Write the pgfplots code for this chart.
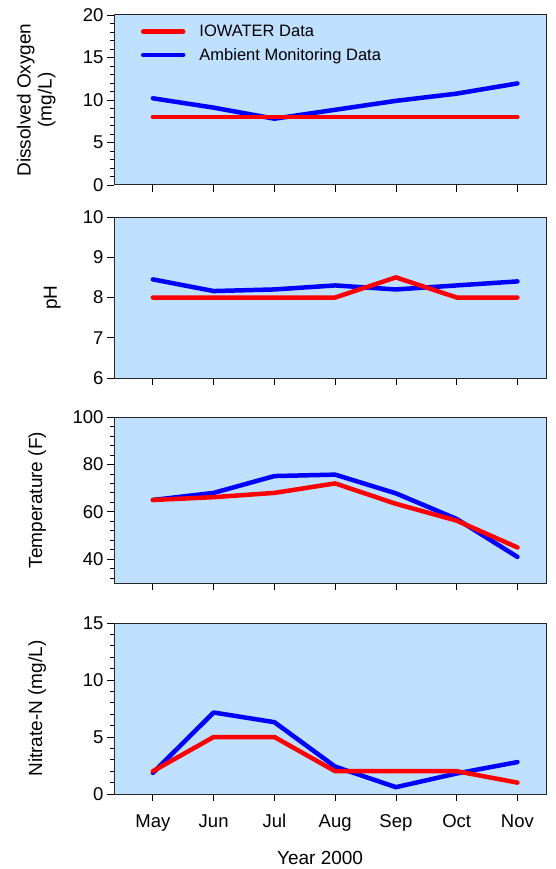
\documentclass[border=0pt]{standalone}
\usepackage{pgfplots}
\pgfplotsset{compat=1.18}
\usepackage{fontspec}
\setmainfont{Liberation Sans}
\definecolor{panelbg}{RGB}{192,224,255}
\definecolor{iowred}{RGB}{255,0,0}
\definecolor{ambblue}{RGB}{0,0,255}
\pgfplotsset{
  panel/.style={
    scale only axis,
    width=432pt,
    axis background/.style={fill=panelbg},
    xmin=-0.64, xmax=6.47,
    xtick={0,...,6},
    xticklabels={},
    axis line style={line width=1pt, black!85},
    tick style={line width=0.8pt, black},
    tick align=outside,
    major tick length=7pt,
    minor tick length=4pt,
    xtick pos=bottom, ytick pos=left,
    tick label style={font=\fontsize{18.5}{21}\selectfont},
    /pgf/number format/assume math mode=true,
    ylabel style={rotate=-90, anchor=center, align=center, font=\fontsize{19}{21}\selectfont},
    every axis plot/.append style={line width=4.5pt, line join=round, line cap=round},
  },
}
\begin{document}
\begin{tikzpicture}
\useasboundingbox (0pt,0pt) rectangle (556pt,-869pt);

% Dissolved oxygen
\begin{axis}[panel, at={(114pt,-185pt)}, anchor=south west, height=170pt,
  ymin=0, ymax=20, ytick={0,5,...,20}, minor ytick={0,1,...,20},
  ylabel={Dissolved Oxygen\\(mg/L)},
  ylabel style={at={(axis description cs:-0.18,0.5)}, rotate=90},
  legend style={at={(axis description cs:0.055,0.965)}, anchor=north west,
    draw=none, fill=none, row sep=6pt, font=\fontsize{16.5}{19}\selectfont,
    nodes={inner xsep=14pt}},
  legend cell align=left, reverse legend,
  legend image code/.code={\draw[#1] (0pt,0pt) -- (40pt,0pt);},
]
\addplot[ambblue] coordinates {(0,10.2) (1,9.1) (2,7.8) (3,8.85) (4,9.9) (5,10.75) (6,11.95)};
\addplot[iowred] coordinates {(0,8) (1,8) (2,8) (3,8) (4,8) (5,8) (6,8)};
\legend{Ambient Monitoring Data, IOWATER Data}
\end{axis}

% pH
\begin{axis}[panel, at={(114pt,-378pt)}, anchor=south west, height=161pt,
  ymin=6, ymax=10, ytick={6,...,10},
  ylabel={pH},
  ylabel style={at={(axis description cs:-0.143,0.5)}, rotate=90},
]
\addplot[ambblue] coordinates {(0,8.45) (1,8.16) (2,8.2) (3,8.3) (4,8.2) (5,8.3) (6,8.4)};
\addplot[iowred] coordinates {(0,8) (1,8) (2,8) (3,8) (4,8.5) (5,8) (6,8)};
\end{axis}

% Temperature
\begin{axis}[panel, at={(114pt,-583pt)}, anchor=south west, height=166pt,
  ymin=30, ymax=100, ytick={40,60,...,100}, minor ytick={32,36,...,100},
  ylabel={Temperature (F)},
  ylabel style={at={(axis description cs:-0.178,0.5)}, rotate=90},
]
\addplot[ambblue] coordinates {(0,65) (1,68) (2,75.1) (3,75.7) (4,67.8) (5,57) (6,41)};
\addplot[iowred] coordinates {(0,65) (1,66.2) (2,68) (3,72) (4,63.4) (5,56.3) (6,45)};
\end{axis}

% Nitrate
\begin{axis}[panel, at={(114pt,-794pt)}, anchor=south west, height=171pt,
  ymin=0, ymax=15, ytick={0,5,...,15}, minor ytick={0,1,...,15},
  xticklabels={May,Jun,Jul,Aug,Sep,Oct,Nov},
  xticklabel style={yshift=-10pt},
  ylabel={Nitrate-N (mg/L)},
  ylabel style={at={(axis description cs:-0.178,0.5)}, rotate=90},
  xlabel={Year 2000},
  xlabel style={at={(axis description cs:0.477,0)}, anchor=center, yshift=-64pt,
    font=\fontsize{19}{21}\selectfont},
]
\addplot[ambblue] coordinates {(0,1.85) (1,7.15) (2,6.3) (3,2.4) (4,0.6) (5,1.8) (6,2.8)};
\addplot[iowred] coordinates {(0,2) (1,5) (2,5) (3,2) (4,2) (5,2) (6,1)};
\end{axis}
\end{tikzpicture}
\end{document}
